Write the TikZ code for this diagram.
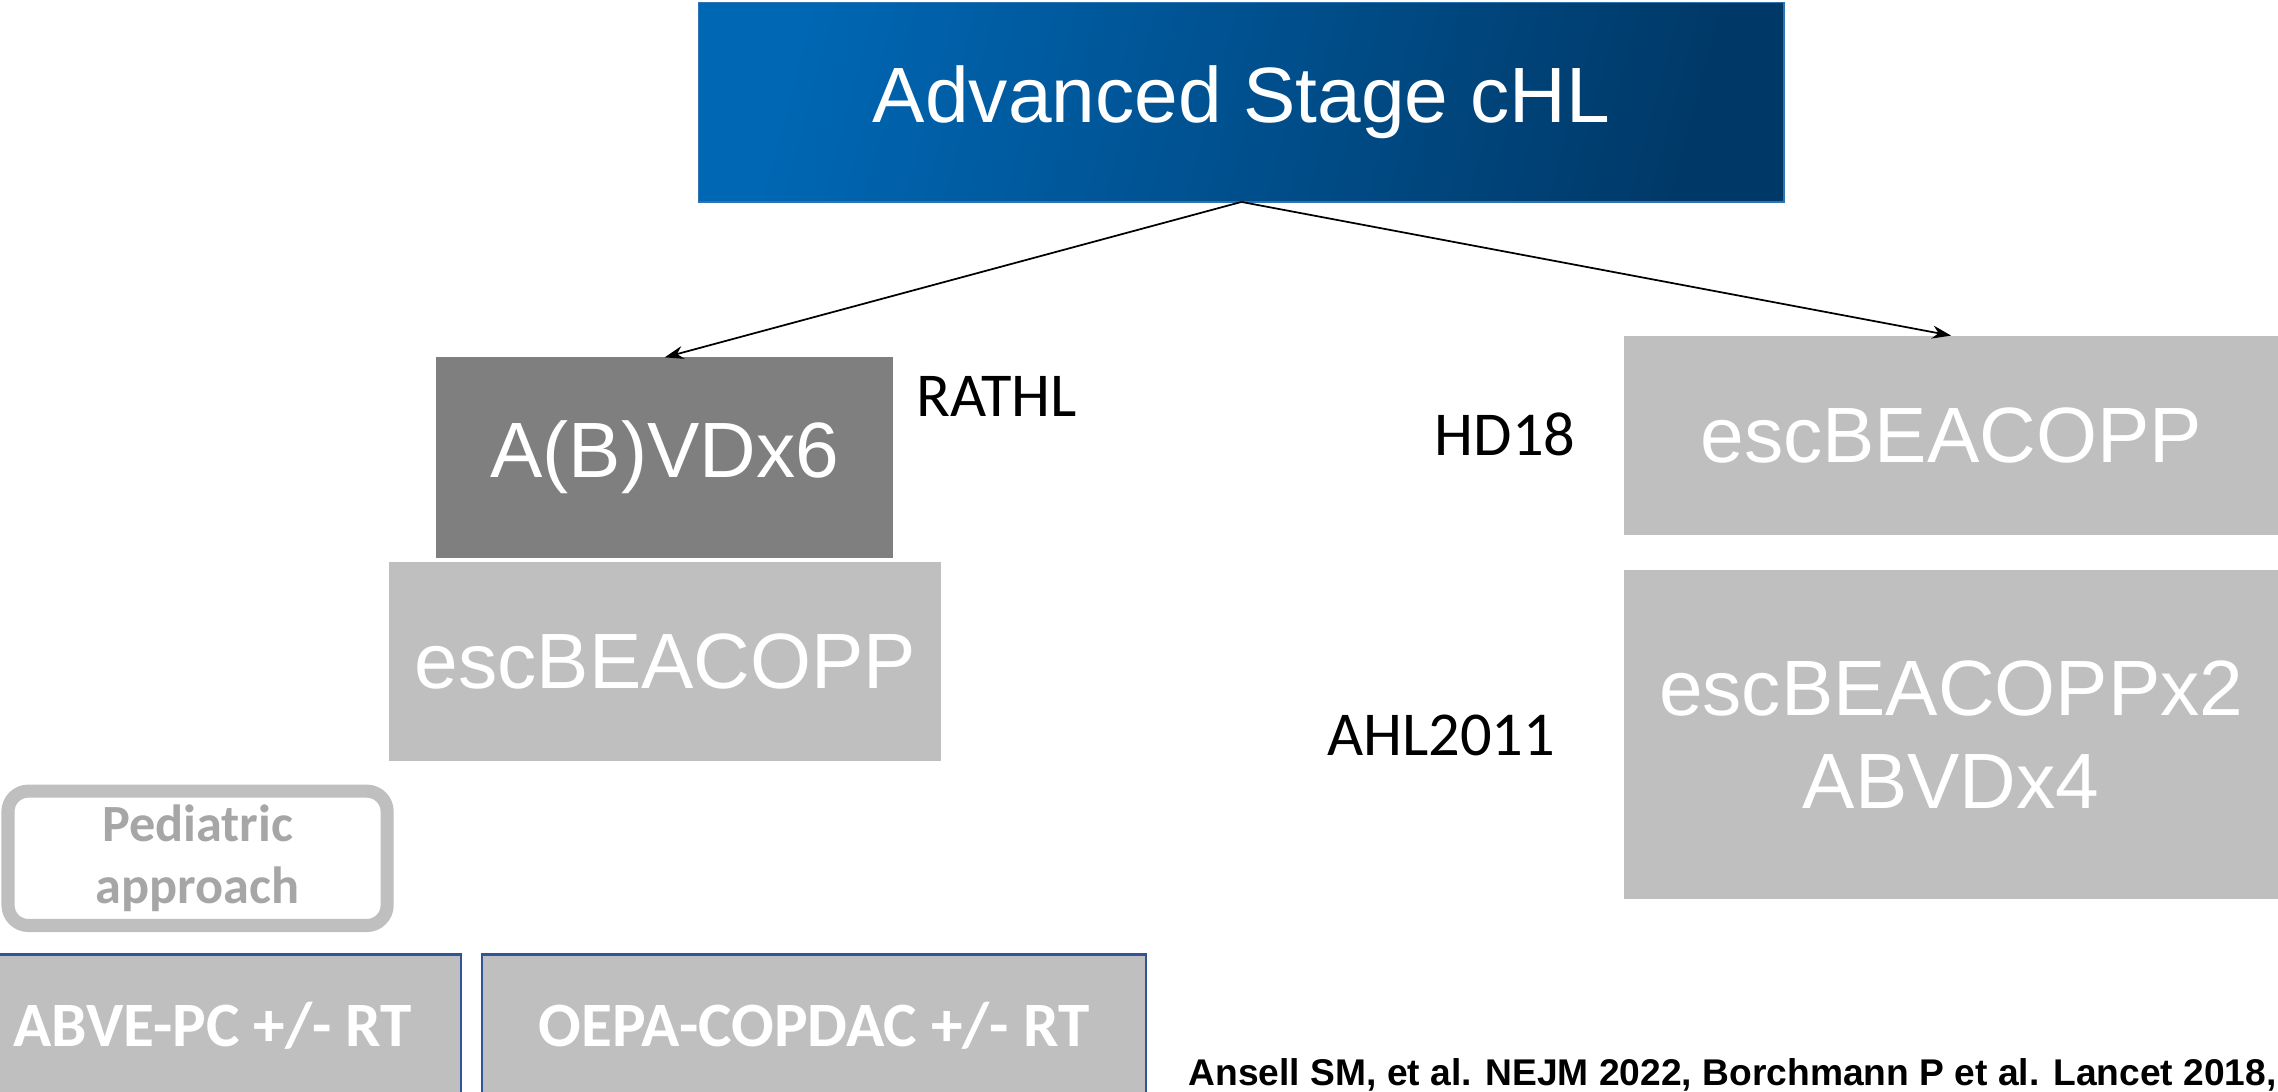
\documentclass[tikz,border=0pt]{standalone}
\usepackage{fontspec}
\setmainfont{Liberation Sans}
\newfontfamily\calibri{Carlito}
\usetikzlibrary{arrows.meta}
\definecolor{boxgray}{HTML}{BFBFBF}
\definecolor{dkgray}{HTML}{7F7F7F}
\definecolor{blueA}{HTML}{0067B4}
\definecolor{blueB}{HTML}{003968}
\definecolor{topedge}{HTML}{2E74B5}
\definecolor{frameblue}{HTML}{2F5597}
\definecolor{pedgray}{HTML}{A6A6A6}
\begin{document}
\begin{tikzpicture}[x=1pt,y=-1pt,
  box/.style={rectangle, inner sep=0pt, outer sep=0pt, text=white, align=center},
  bigtxt/.style={font=\fontsize{54}{64}\selectfont},
  lbl/.style={inner sep=0pt, font=\calibri\fontsize{43}{50}\selectfont, text=black},
  peds/.style={box, fill=boxgray, draw=frameblue, line width=1.4pt,
     font=\calibri\bfseries\fontsize{43.5}{50}\selectfont},
  arr/.style={line width=1.2pt, -{Stealth[length=13pt,width=9pt]}}]
\useasboundingbox (0,0) rectangle (1568,751);
\clip (0,0) rectangle (1568,751);
% top box
\node[box, bigtxt, minimum width=747pt, minimum height=137pt,
  left color=blueA, right color=blueB, shading angle=75,
  draw=topedge, line width=0.8pt] (top) at (854.5,70.5) {Advanced Stage cHL};
% left column
\node[box, bigtxt, fill=dkgray, minimum width=315pt, minimum height=138pt] (abvd) at (457.5,315) {A(B)VDx6};
\node[box, bigtxt, fill=boxgray, minimum width=380pt, minimum height=137pt] (escL) at (458,455.5) {escBEACOPP};
\node[lbl, anchor=center] (rathl) at (686,273) {RATHL};
% right column
\node[box, bigtxt, fill=boxgray, minimum width=450pt, minimum height=137pt] (escR) at (1343,299.5) {escBEACOPP};
\node[box, bigtxt, fill=boxgray, minimum width=450pt, minimum height=227pt] (escR2) at (1343,505.5) {escBEACOPPx2\\ABVDx4};
\node[lbl, anchor=center] (hd18) at (1036,299) {HD18};
\node[lbl, anchor=center] (ahl) at (992,506) {AHL2011};
% arrows
\draw[arr] (top.south) -- (abvd.north);
\draw[arr] (top.south) -- (escR.north);
% pediatric
\node[rectangle, rounded corners=14pt, draw=boxgray, line width=9pt, fill=white,
  minimum width=261pt, minimum height=92.5pt, inner sep=0pt, align=center,
  text=pedgray, font=\calibri\bfseries\fontsize{36}{43}\selectfont] (ped) at (136,590.8) {Pediatric\\approach};
\node[peds, minimum width=341pt, minimum height=98pt] (abve) at (146.5,706) {ABVE-PC +/- RT};
\node[peds, minimum width=457pt, minimum height=98pt] (oepa) at (560.5,706) {OEPA-COPDAC +/- RT};
% citation
\node[anchor=base west, inner sep=0pt, font=\bfseries\fontsize{25.6}{30}\selectfont] (cite) at (818,747) {Ansell SM, et al. NEJM 2022, Borchmann P et al. Lancet 2018,};
\end{tikzpicture}
\end{document}
